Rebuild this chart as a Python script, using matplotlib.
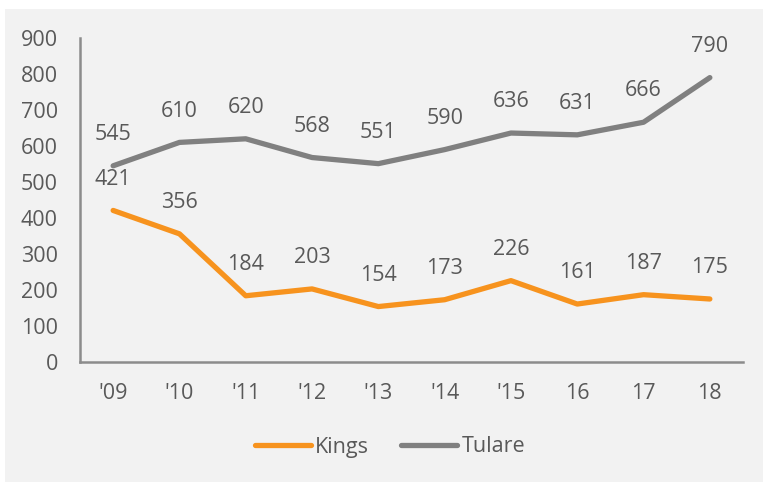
import matplotlib
matplotlib.use('Agg')
import matplotlib.pyplot as plt
from matplotlib.patches import Rectangle

plt.rcParams['font.family'] = ['Open Sans', 'DejaVu Sans']

years = ["'09", "'10", "'11", "'12", "'13", "'14", "'15", "16", "17", "18"]
kings = [421, 356, 184, 203, 154, 173, 226, 161, 187, 175]
tulare = [545, 610, 620, 568, 551, 590, 636, 631, 666, 790]

text_c = '#595959'
bg = '#F2F2F2'
fs = 15.5

fig = plt.figure(figsize=(7.63, 4.82), dpi=100)
fig.patches.append(Rectangle((5 / 763, 0), 1, 1 - 9 / 482, transform=fig.transFigure,
                             facecolor=bg, edgecolor='none', zorder=-10))
ax = fig.add_axes([80 / 763, 1 - 362 / 482, 663 / 763, 324 / 482])
ax.set_facecolor(bg)

x = list(range(len(years)))
p1, = ax.plot(x, kings, color='#F7931E', lw=3.8, label='Kings', solid_capstyle='round')
p2, = ax.plot(x, tulare, color='#808080', lw=3.8, label='Tulare', solid_capstyle='round')

# data labels above each point
for xi, v in zip(x, kings):
    ax.annotate(str(v), (xi, v), xytext=(0, 22.5), textcoords='offset points',
                ha='center', va='center', fontsize=fs, color=text_c)
for xi, v in zip(x, tulare):
    ax.annotate(str(v), (xi, v), xytext=(0, 22.5), textcoords='offset points',
                ha='center', va='center', fontsize=fs, color=text_c)

ax.set_xlim(-0.5, len(years) - 0.5)
ax.set_ylim(0, 900)
ax.set_yticks(range(0, 901, 100))
ax.set_xticks(x)
ax.set_xticklabels(years)
ax.tick_params(length=0, labelsize=fs, labelcolor=text_c)
ax.tick_params(axis='y', pad=16)
ax.tick_params(axis='x', pad=15)
for s in ['top', 'right']:
    ax.spines[s].set_visible(False)
for s in ['left', 'bottom']:
    ax.spines[s].set_color('#8C8C8C')
    ax.spines[s].set_linewidth(1.8)

leg = fig.legend(handles=[p1, p2], loc='center', bbox_to_anchor=(390 / 763, 1 - 447 / 482),
                 ncol=2, frameon=False, fontsize=fs, handlelength=2.6,
                 handletextpad=0.2, columnspacing=1.5)
for t in leg.get_texts():
    t.set_color(text_c)

fig.savefig('out.png', dpi=100, facecolor='white')
